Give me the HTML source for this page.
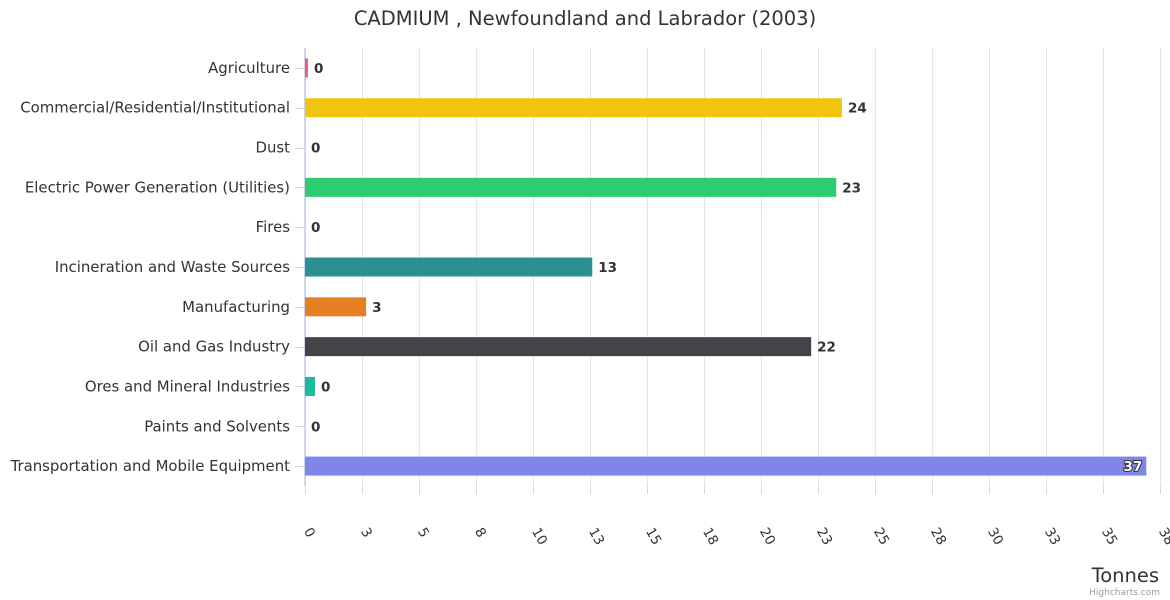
<!DOCTYPE html>
<html><head><meta charset="utf-8"><style>
body{margin:0;background:#fff;}
svg{display:block;font-family:"DejaVu Sans",sans-serif;}
</style></head><body>
<svg id="c" width="1170" height="600">
<rect width="1170" height="600" fill="#fff"/>
<text x="585" y="25" text-anchor="middle" font-size="19.5" fill="#333">CADMIUM , Newfoundland and Labrador (2003)</text>
<g id="grid"></g><g id="bars"></g><g id="labels"></g>
<text x="1159" y="582" text-anchor="end" font-size="19.5" fill="#333">Tonnes</text>
<text x="1160" y="595" text-anchor="end" font-size="9" fill="#999">Highcharts.com</text>
</svg>
<script>
const categories=["Agriculture","Commercial/Residential/Institutional","Dust","Electric Power Generation (Utilities)","Fires","Incineration and Waste Sources","Manufacturing","Oil and Gas Industry","Ores and Mineral Industries","Paints and Solvents","Transportation and Mobile Equipment"];
const values=[0.13,23.55,0,23.3,0,12.6,2.68,22.2,0.44,0,36.9];
const colors=["#f15c80","#f1c40f","#2b908f","#2ecc71","#e74c3c","#2c9090","#e67e22","#434348","#1abc9c","#8085e9","#8085e9"];
const tickLabels=["0","3","5","8","10","13","15","18","20","23","25","28","30","33","35","38"];
const tickStep=2.5, xMax=37.5;
const NS="http://www.w3.org/2000/svg";
const L=305,R=1160,T=48,B=486;
const x=v=>L+(v/xMax)*(R-L);
const rowH=(B-T)/categories.length;
const y=i=>T+rowH*(i+0.5);
function mk(tag,attrs,parent){const e=document.createElementNS(NS,tag);for(const k in attrs)e.setAttribute(k,attrs[k]);parent.appendChild(e);return e;}
const grid=document.getElementById('grid'),bars=document.getElementById('bars'),labels=document.getElementById('labels');
tickLabels.forEach((t,i)=>{
  const xx=Math.round(x(i*tickStep))+0.5;
  const g=mk('line',{x1:xx,x2:xx,y1:T,y2:B,stroke:i==0?'#ccd6eb':'#e6e6e6','stroke-width':1},grid);
  
  
  const tk=mk('line',{x1:xx,x2:xx,y1:B,y2:B+8,stroke:'#ccd6eb'},grid);
  
  
  const tl=mk('text',{x:0,y:0,'font-size':13.5,fill:'#333',transform:`translate(${xx-2},${531}) rotate(60)`},labels);
  tl.textContent=t;
  
  
});
categories.forEach((c,i)=>{
  const cy=y(i);
  const tk=mk('line',{x1:295,x2:305,y1:Math.round(cy)+0.5,y2:Math.round(cy)+0.5,stroke:'#ccd6eb'},grid);
  
  
  const lab=mk('text',{x:290,y:cy+5,'text-anchor':'end','font-size':14.9,fill:'#333'},labels);
  lab.textContent=c;
  
  
  const w=x(values[i])-L;
  const r=mk('rect',{x:L,y:cy-9.5,width:Math.max(w,0),height:19,fill:colors[i]},bars);
  
  
  const inside=w>800;
  const v=mk('text',{x:inside?x(values[i])-4:x(values[i])+6,y:cy+5,'text-anchor':inside?'end':'start','font-size':13.5,'font-weight':'bold',fill:inside?'#fff':'#333',stroke:inside?'#333':'none','stroke-width':inside?2:0,'paint-order':'stroke'},labels);
  v.textContent=Math.round(values[i]);
  
  
});
const ax=mk('line',{x1:304.5,x2:304.5,y1:T,y2:B,stroke:'#ccd6eb'},grid);


</script>
</body></html>
